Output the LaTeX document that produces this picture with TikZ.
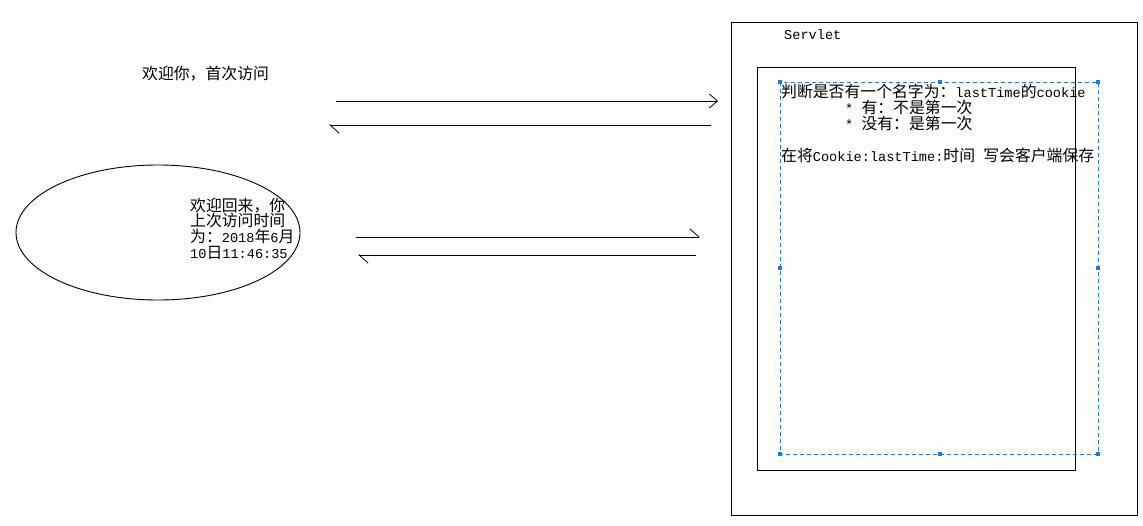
\documentclass[tikz,border=0pt]{standalone}
\usepackage{fontspec}
\setmainfont{Liberation Mono}
\newfontfamily\cjk[Scale=1.165]{Noto Sans CJK SC}
\usetikzlibrary{arrows.meta,shapes.geometric}
\definecolor{selblue}{RGB}{36,122,210}
\definecolor{bgcol}{RGB}{252,254,252}
\tikzset{
  txt/.style={inner sep=0pt, anchor=base west, font=\fontsize{13.6}{16}\selectfont},
  frame/.style={draw=black, line width=1pt},
  msg/.style={draw=black, line width=0.9pt},
  barb/.style={-{Straight Barb[length=8pt,width=14pt,line width=0.8pt]}},
  halfbarb/.style={-{Straight Barb[harpoon,length=9pt,width=16pt,line width=0.8pt]}},
  handle/.style={fill=selblue, inner sep=0pt, minimum size=3.5pt, draw=none},
  sel/.style={draw=selblue, line width=0.9pt, dash pattern=on 4pt off 3pt}
}
\begin{document}
\begin{tikzpicture}[x=1pt,y=-1pt]
\useasboundingbox[fill=bgcol] (0,0) rectangle (1143,525);

% Servlet frames
\draw[frame] (731,22) rectangle (1137,515);
\draw[frame] (757,67) rectangle (1075,470);
\node[txt] (servlet) at (784,39) {Servlet};

% selection box
\draw[sel] (780,82) rectangle (1098,454);
\foreach \n/\p in {h1/{(780,82)},h2/{(940,82)},h3/{(1098,82)},h4/{(780,268)},h5/{(1098,268)},h6/{(780,454)},h7/{(940,454)},h8/{(1098,454)}}
  \node[handle] (\n) at \p {};

% servlet text
\node[txt] (l1) at (781,97) {{\cjk 判断是否有一个名字为：}lastTime{\cjk 的}cookie};
\node[txt] (l2) at (845,113) {* {\cjk 有：不是第一次}};
\node[txt] (l3) at (845,129) {* {\cjk 没有：是第一次}};
\node[txt] (l5) at (781,161) {{\cjk 在将}Cookie:lastTime:{\cjk 时间} {\cjk 写会客户端保存}};

% left side
\node[txt] (first) at (142,79) {{\cjk 欢迎你，首次访问}};
\node[draw=black, line width=0.9pt, ellipse, minimum width=284pt, minimum height=135pt, inner sep=0pt] (ell) at (158,232.5) {};
\node[txt] (e1) at (190,211) {{\cjk 欢迎回来，你}};
\node[txt] (e2) at (190,226.7) {{\cjk 上次访问时间}};
\node[txt] (e3) at (190,242.4) {{\cjk 为：}2018{\cjk 年}6{\cjk 月}};
\node[txt] (e4) at (190,258) {10{\cjk 日}11:46:35};

% arrows
\coordinate (a1s) at (336,101); \coordinate (a1e) at (718,101);
\coordinate (a2s) at (711,125); \coordinate (a2e) at (329,125);
\coordinate (a3s) at (356,237); \coordinate (a3e) at (700,237);
\coordinate (a4s) at (696,255); \coordinate (a4e) at (358,255);
\draw[msg,barb] (a1s) -- (a1e);
\draw[msg,halfbarb] (a2s) -- (a2e);
\draw[msg,halfbarb] (a3s) -- (a3e);
\draw[msg,halfbarb] (a4s) -- (a4e);
\end{tikzpicture}
\end{document}
